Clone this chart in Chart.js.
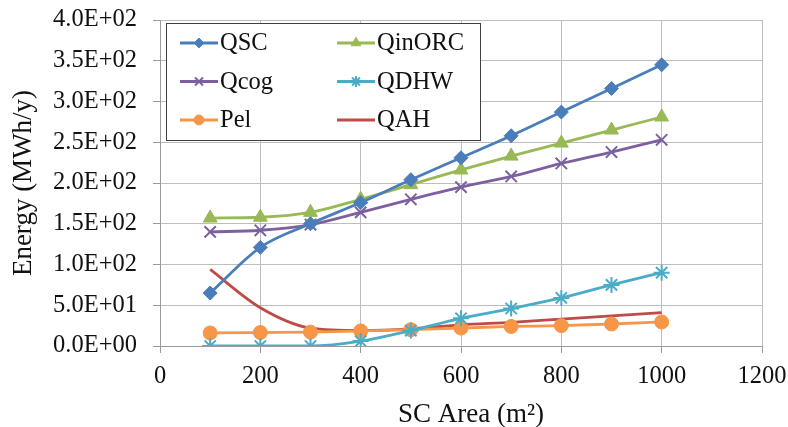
<!DOCTYPE html>
<html>
<head>
<meta charset="utf-8">
<script src="https://cdn.jsdelivr.net/npm/chart.js@4/dist/chart.umd.min.js"></script>
<style>
  body { margin: 0; background: #fff; }
  canvas { display: block; }
</style>
</head>
<body>
<canvas id="energyChart" width="788" height="427"></canvas>
<script>
// SC area (m2) and the yearly energy flows (MWh/y)
const areas = [100, 200, 300, 400, 500, 600, 700, 800, 900, 1000];
const qsc = [65, 121, 150, 176, 204, 231, 258, 287, 316, 345];
const qinorc = [157, 158, 164, 180, 198, 216, 233, 249, 265, 281];
const qcog = [140, 142, 149, 164, 180, 195, 208, 224, 238, 253];
const qdhw = [0, 0, 0, 6, 19, 34, 46, 59, 75, 90];
const pel = [16, 16.5, 17, 18.5, 20, 22, 24, 25, 27, 29.5];
const qah = [94, 47, 22, 19, 21, 26, 29, 33, 37, 41];

const xTicks = [0, 200, 400, 600, 800, 1000, 1200];
const yTicks = [0, 50, 100, 150, 200, 250, 300, 350, 400];
const xTitle = 'SC Area (m²)';
const yTitle = 'Energy (MWh/y)';

const serif = '"Liberation Serif", "Times New Roman", serif';
const ink = '#111';

function pts(ys) {
    return areas.map((x, i) => ({ x: x, y: ys[i] }));
}

function series(label, ys, color, style, radius) {
    return {
        label: label,
        data: pts(ys),
        borderColor: color,
        backgroundColor: color,
        pointBackgroundColor: color,
        pointBorderColor: color,
        pointStyle: style,
        pointRadius: radius,
        pointBorderWidth: style === 'crossRot' || style === 'star' ? 2 : 1,
        borderWidth: 2.8,
        tension: 0.3,
        cubicInterpolationMode: 'monotone'
    };
}

// Excel-like scientific labels: 4.0E+02
function sci(v) {
    if (v === 0) return '0.0E+00';
    const e = Math.floor(Math.log10(Math.abs(v)));
    const m = v / Math.pow(10, e);
    const sign = e < 0 ? '-' : '+';
    return m.toFixed(1) + 'E' + sign + String(Math.abs(e)).padStart(2, '0');
}

// keep the plot box fixed, labels may overhang into the page margin
function noOverhang(s) {
    s.paddingTop = 0;
    s.paddingBottom = 0;
    s.paddingLeft = 0;
    s.paddingRight = 0;
}

// two-column boxed legend inside the plot, plus the x axis title
const boxLegend = {
    id: 'boxLegend',
    afterDraw(chart) {
        const ctx = chart.ctx;
        const left = 166.5, top = 23.5, w = 314, h = 117;
        ctx.save();
        ctx.fillStyle = '#fff';
        ctx.fillRect(left, top, w, h);
        ctx.strokeStyle = '#404040';
        ctx.lineWidth = 1;
        ctx.strokeRect(left, top, w, h);
        ctx.font = '24.5px ' + serif;
        ctx.textBaseline = 'middle';
        chart.data.datasets.forEach((ds, i) => {
            const col = i % 2, row = Math.floor(i / 2);
            const x0 = col === 0 ? 180 : 337;
            const y = 43 + row * 38.5;
            ctx.strokeStyle = ds.borderColor;
            ctx.lineWidth = 3;
            ctx.beginPath();
            ctx.moveTo(x0, y);
            ctx.lineTo(x0 + 38, y);
            ctx.stroke();
            if (ds.pointRadius > 0) {
                ctx.fillStyle = ds.pointBackgroundColor;
                ctx.strokeStyle = ds.pointBorderColor;
                ctx.lineWidth = ds.pointBorderWidth;
                Chart.helpers.drawPoint(ctx, {
                    pointStyle: ds.pointStyle,
                    radius: ds.pointRadius * 0.7,
                    borderWidth: ds.pointBorderWidth,
                    rotation: 0
                }, x0 + 19, y);
            }
            ctx.fillStyle = ink;
            ctx.fillText(ds.label, x0 + 40, y + 1);
        });

        ctx.font = '27px ' + serif;
        ctx.textAlign = 'center';
        ctx.fillStyle = ink;
        ctx.fillText(xTitle, 471, 415);
        ctx.restore();
    }
};

new Chart(document.getElementById('energyChart'), {
    type: 'line',
    data: {
        datasets: [
            series('QSC', qsc, '#4A7EBB', 'rectRot', 7),
            series('QinORC', qinorc, '#98B954', 'triangle', 8),
            series('Qcog', qcog, '#7D60A0', 'crossRot', 8),
            series('QDHW', qdhw, '#4BACC6', 'star', 8),
            series('Pel', pel, '#F79646', 'circle', 7),
            series('QAH', qah, '#BE4B48', 'circle', 0)
        ]
    },
    options: {
        responsive: false,
        animation: false,
        layout: { padding: { top: 20, right: 26, left: 0, bottom: 0 } },
        plugins: {
            legend: { display: false },
            tooltip: { enabled: false }
        },
        scales: {
            x: {
                type: 'linear',
                min: 0,
                max: 1200,
                afterBuildTicks: s => { s.ticks = xTicks.map(v => ({ value: v })); },
                afterFit: s => { s.height = 81; noOverhang(s); },
                grid: { color: '#bdbdbd', lineWidth: 1, tickLength: 7, tickColor: '#9a9a9a' },
                border: { color: '#9a9a9a' },
                ticks: {
                    color: ink,
                    padding: 9,
                    maxRotation: 0,
                    callback: v => String(v),
                    font: { family: serif, size: 24.5 }
                }
            },
            y: {
                min: 0,
                max: 400,
                afterBuildTicks: s => { s.ticks = yTicks.map(v => ({ value: v })); },
                afterFit: s => { s.width = 160; noOverhang(s); },
                grid: { color: '#bdbdbd', lineWidth: 1, tickLength: 7, tickColor: '#9a9a9a' },
                border: { color: '#9a9a9a' },
                ticks: {
                    color: ink,
                    padding: 16,
                    callback: v => sci(v),
                    font: { family: serif, size: 24.5 }
                },
                title: {
                    display: true,
                    text: yTitle,
                    color: ink,
                    font: { family: serif, size: 27 },
                    padding: { top: 8, bottom: 0 }
                }
            }
        }
    },
    plugins: [boxLegend]
});
</script>
</body>
</html>
